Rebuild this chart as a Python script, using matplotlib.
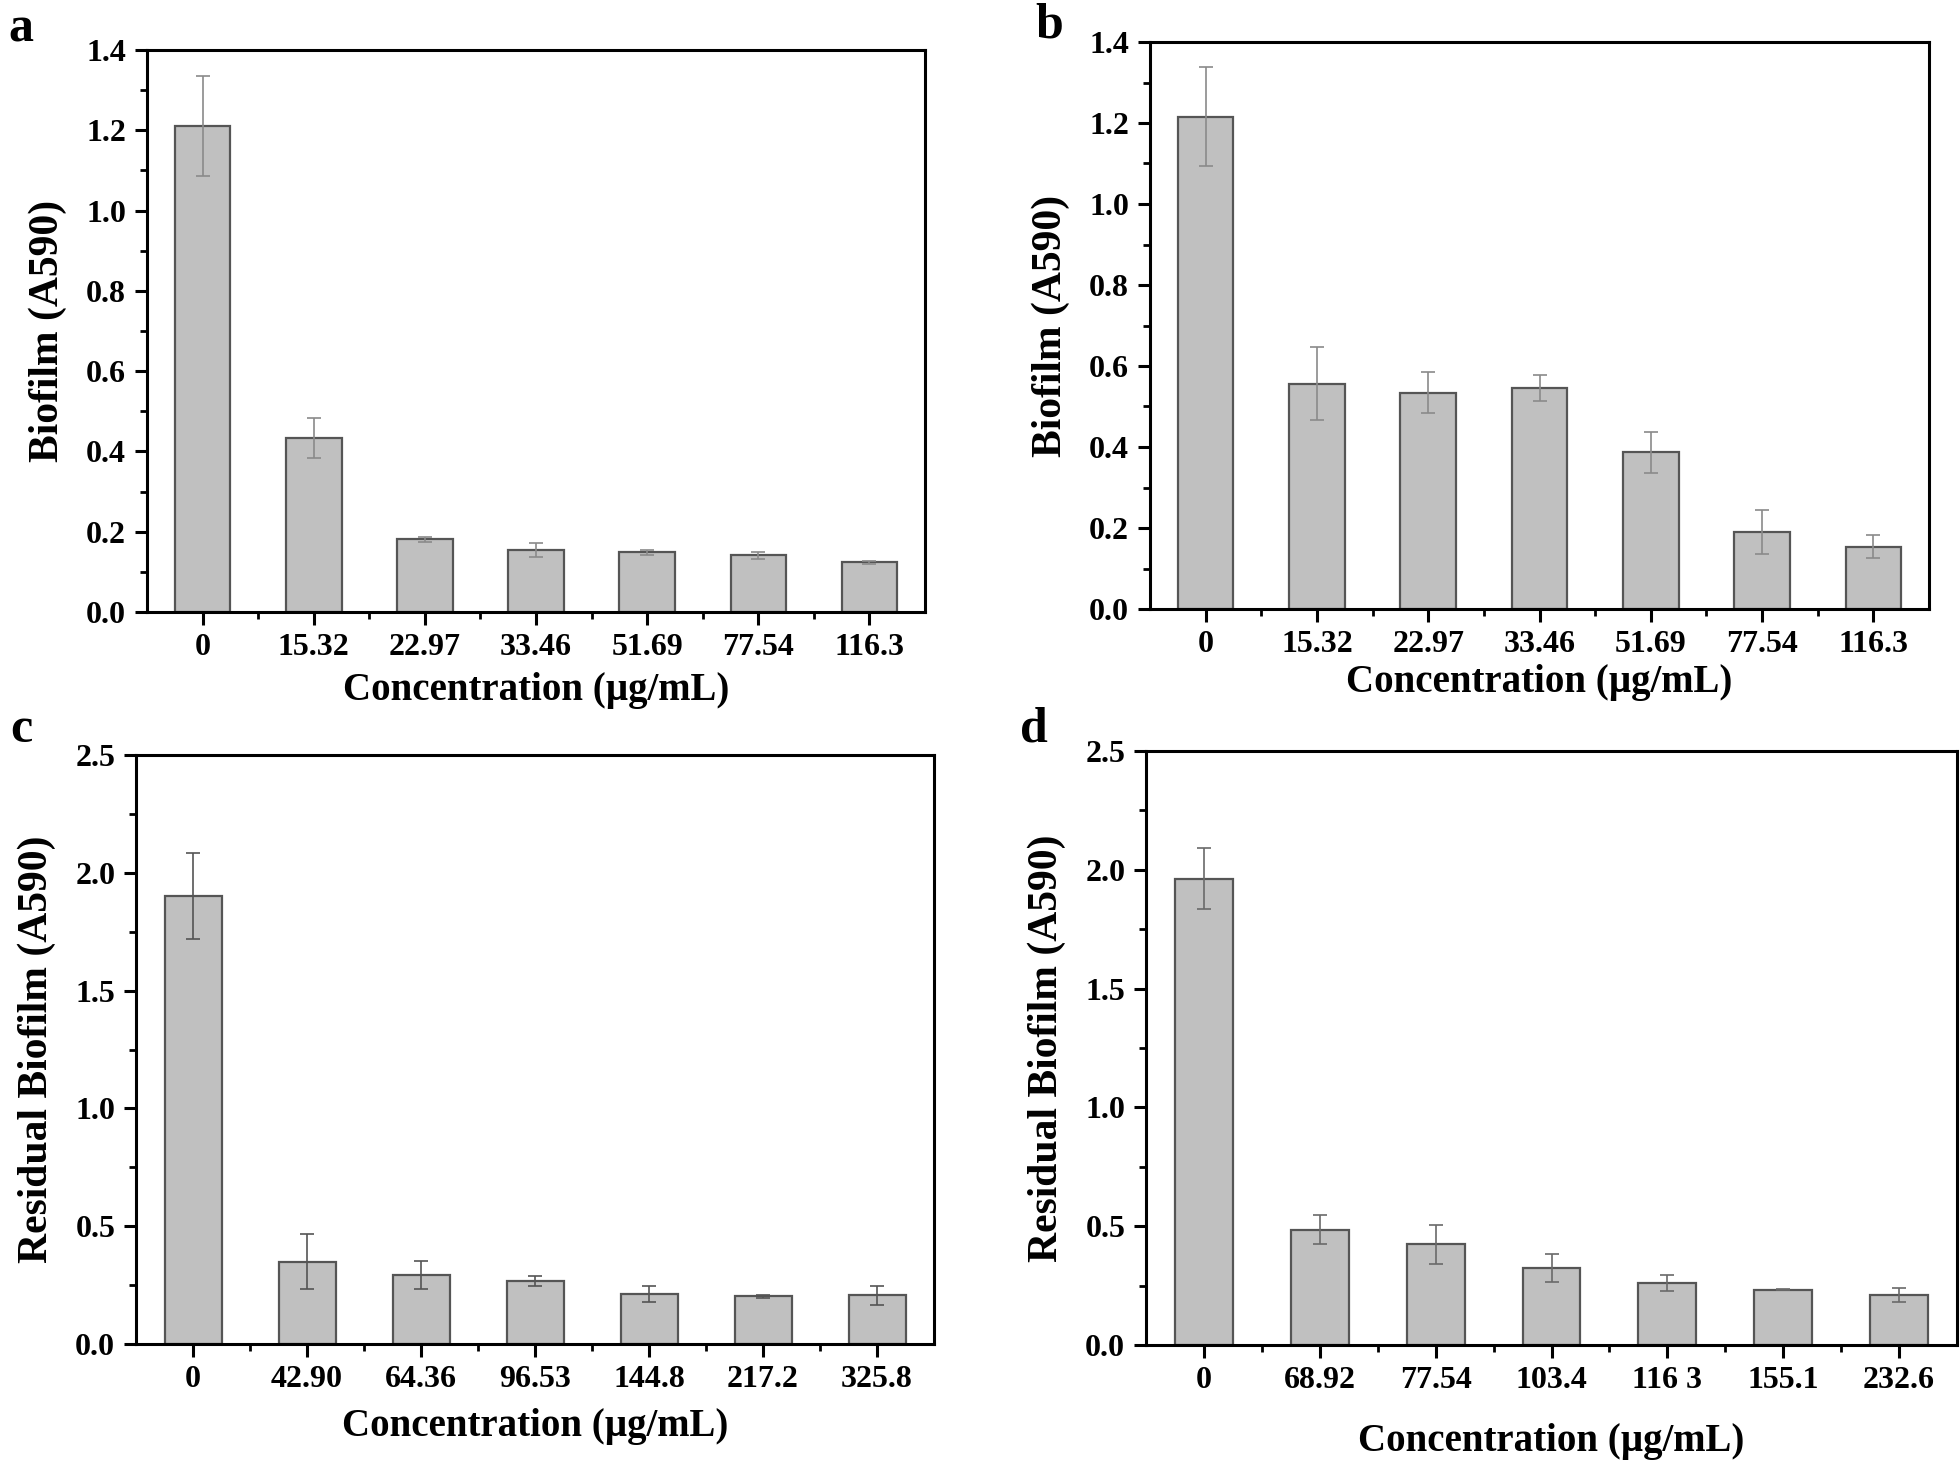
import matplotlib
matplotlib.use("Agg")
from matplotlib import pyplot as plt
from matplotlib.ticker import MultipleLocator, FixedLocator
import numpy as np

plt.rcParams['font.family'] = ['Liberation Serif', 'DejaVu Serif']
plt.rcParams['font.weight'] = 'bold'

# data
labels_ab = ["0", "15.32", "22.97", "33.46", "51.69", "77.54", "116.3"]
labels_c = ["0", "42.90", "64.36", "96.53", "144.8", "217.2", "325.8"]
labels_d = ["0", "68.92", "77.54", "103.4", "116 3", "155.1", "232.6"]

a_vals = [1.21, 0.433, 0.181, 0.154, 0.149, 0.141, 0.124]
a_err = [0.125, 0.05, 0.006, 0.018, 0.006, 0.008, 0.004]
b_vals = [1.216, 0.556, 0.534, 0.545, 0.387, 0.19, 0.154]
b_err = [0.122, 0.09, 0.05, 0.032, 0.05, 0.055, 0.028]
c_vals = [1.903, 0.349, 0.292, 0.268, 0.212, 0.202, 0.206]
c_err = [0.183, 0.117, 0.06, 0.022, 0.034, 0.006, 0.039]
d_vals = [1.963, 0.486, 0.423, 0.324, 0.261, 0.233, 0.209]
d_err = [0.128, 0.063, 0.08, 0.06, 0.035, 0.003, 0.03]

W, H = 1960, 1460
fig = plt.figure(figsize=(W / 100, H / 100), dpi=100)


def panel(box, vals, err, labels, ymax, ystep, ylabel, letter, letter_xy, xlab_pad, ecol):
    left, top, right, bottom = box
    ax = fig.add_axes([left / W, 1 - bottom / H, (right - left) / W, (bottom - top) / H])
    x = np.arange(len(vals))
    ax.bar(x, vals, width=0.5, color="#c0c0c0", edgecolor="#555555", linewidth=1.6, zorder=2)
    ax.errorbar(x, vals, yerr=err, fmt="none", ecolor=ecol, elinewidth=1.2,
                capsize=5, capthick=1.2, zorder=3)
    ax.set_xlim(-0.5, len(vals) - 0.5)
    ax.set_ylim(0, ymax)
    ax.set_xticks(x)
    ax.set_xticklabels(labels)
    ax.xaxis.set_minor_locator(FixedLocator(x[:-1] + 0.5))
    ax.yaxis.set_major_locator(MultipleLocator(ystep))
    ax.yaxis.set_minor_locator(MultipleLocator(ystep / 2))
    ax.yaxis.set_major_formatter(matplotlib.ticker.FormatStrFormatter("%.1f"))
    for s in ax.spines.values():
        s.set_linewidth(2.2)
    ax.tick_params(which="major", direction="out", length=9, width=2.2,
                   labelsize=23, pad=6, top=False, right=False)
    ax.tick_params(which="minor", direction="out", length=5, width=2.0,
                   top=False, right=False)
    for t in ax.get_xticklabels() + ax.get_yticklabels():
        t.set_fontweight("bold")
    ax.set_xlabel("Concentration (\u00b5g/mL)", fontsize=28, fontweight="bold", labelpad=xlab_pad)
    ax.set_ylabel(ylabel, fontsize=30, fontweight="bold", labelpad=14)
    fig.text(letter_xy[0] / W, 1 - letter_xy[1] / H, letter, fontsize=36,
             fontweight="bold", ha="left", va="center")
    return ax


panel((147, 50, 925, 612), a_vals, a_err, labels_ab, 1.4, 0.2, "Biofilm (A590)", "a",
      (8, 30), 7, "#8a8a8a")
panel((1150, 42, 1929, 609), b_vals, b_err, labels_ab, 1.4, 0.2, "Biofilm (A590)", "b",
      (1035, 25), 4, "#8a8a8a")
panel((136, 755, 934, 1344), c_vals, c_err, labels_c, 2.5, 0.5, "Residual Biofilm (A590)", "c",
      (10, 730), 10, "#555555")
panel((1146, 751, 1957, 1345), d_vals, d_err, labels_d, 2.5, 0.5, "Residual Biofilm (A590)", "d",
      (1020, 730), 20, "#6a6a6a")

fig.savefig("out.png", dpi=100, facecolor="white")
